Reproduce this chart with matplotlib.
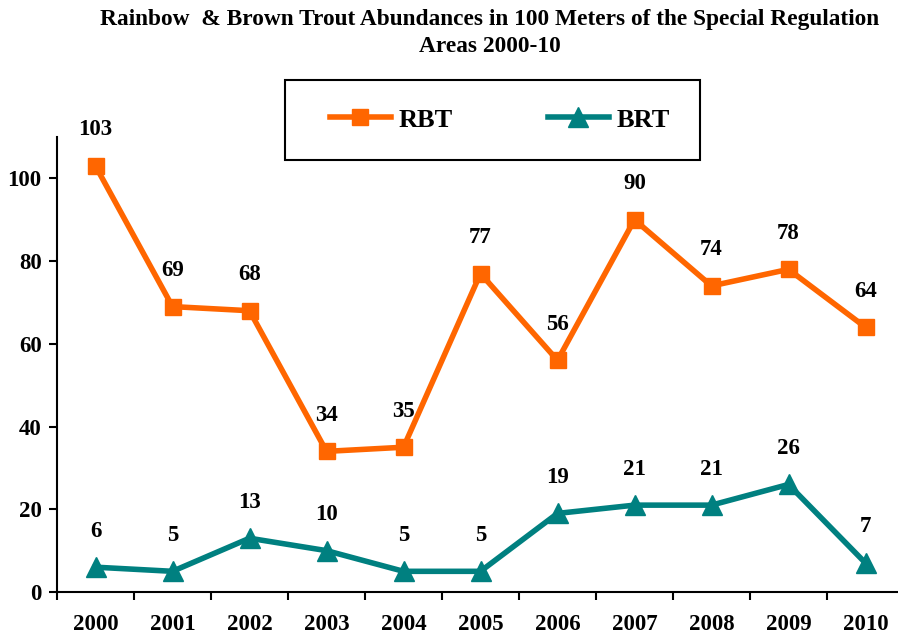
import matplotlib
matplotlib.use("Agg")
import matplotlib.pyplot as plt
from matplotlib.ticker import FixedLocator
from matplotlib.patches import Rectangle

years = ["2000", "2001", "2002", "2003", "2004", "2005", "2006", "2007", "2008", "2009", "2010"]
rbt = [103, 69, 68, 34, 35, 77, 56, 90, 74, 78, 64]
brt = [6, 5, 13, 10, 5, 5, 19, 21, 21, 26, 7]
yticks = [0, 20, 40, 60, 80, 100]

plt.rcParams['font.family'] = ['Liberation Serif', 'DejaVu Serif']
plt.rcParams['font.weight'] = 'bold'

fig = plt.figure(figsize=(8.98, 6.35), dpi=100)
ax = fig.add_axes([57/898, 43/635, (904-57)/898, (592-137)/635])

x = list(range(len(years)))
orange = '#FF6600'
teal = '#008080'
l1, = ax.plot(x, rbt, color=orange, lw=4, marker='s', ms=11.5, label='RBT')
l2, = ax.plot(x, brt, color=teal, lw=4, marker='^', ms=15, label='BRT')

for xi, v in zip(x, rbt):
    ax.annotate(str(v), (xi, v), xytext=(0, 26), textcoords='offset points',
                ha='center', va='center', fontsize=16.5, fontweight='bold')
for xi, v in zip(x, brt):
    ax.annotate(str(v), (xi, v), xytext=(0, 26), textcoords='offset points',
                ha='center', va='center', fontsize=16.5, fontweight='bold')

ax.set_xlim(-0.5, 10.5)
ax.set_ylim(0, 110)
ax.set_yticks(yticks)
ax.set_xticks(x)
ax.set_xticklabels(years, fontsize=16.5, fontweight='bold')
ax.tick_params(axis='x', which='major', length=0, pad=16)
ax.xaxis.set_minor_locator(FixedLocator([i + 0.5 for i in range(-1, 11)]))
ax.tick_params(axis='x', which='minor', length=6, width=1.5, direction='out')
ax.tick_params(axis='y', length=6, width=1.5, direction='out', labelsize=16.5, pad=5)
for lab in ax.get_yticklabels():
    lab.set_fontweight('bold')
ax.spines['top'].set_visible(False)
ax.spines['right'].set_visible(False)
ax.spines['left'].set_linewidth(1.5)
ax.spines['bottom'].set_linewidth(1.5)

fig.text(0.545, 1 - 19/635, "Rainbow  & Brown Trout Abundances in 100 Meters of the Special Regulation",
         ha='center', va='center', fontsize=16.8, fontweight='bold')
fig.text(0.545, 1 - 46/635, "Areas 2000-10", ha='center', va='center', fontsize=16.8, fontweight='bold')

fig.patches.append(Rectangle((285/898, 1 - 160/635), 415/898, 80/635, transform=fig.transFigure,
                             fill=False, edgecolor='black', linewidth=1.5))
leg = fig.legend(handles=[l1, l2], loc='center', bbox_to_anchor=(500/898, 1 - 120/635),
                 ncol=2, frameon=False, prop={'weight': 'bold', 'size': 19},
                 borderpad=0, columnspacing=3.6, handlelength=2.3,
                 borderaxespad=0, handletextpad=0.3)

fig.savefig("out.png", dpi=100)
